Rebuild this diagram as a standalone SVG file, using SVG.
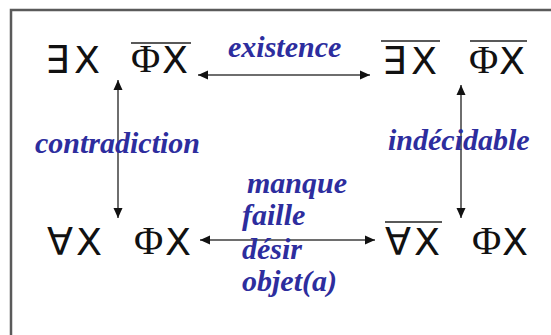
<svg xmlns="http://www.w3.org/2000/svg" width="551" height="335" viewBox="0 0 551 335">
  <defs>
    <marker id="ah" markerUnits="userSpaceOnUse" markerWidth="10" markerHeight="10" viewBox="0 0 10 10" refX="10" refY="5" orient="auto-start-reverse">
      <path d="M0,0.5 L10,5 L0,9.5 Z" fill="#111"/>
    </marker>
    <style>
      .sym { font-family: "DejaVu Sans", "Liberation Sans", sans-serif; font-size: 38px; fill: #111; }
      .phi { font-family: "Liberation Serif", "Times New Roman", serif; font-size: 40px; fill: #111; }
      .bar { stroke: #222; stroke-width: 1.6; fill: none; }
      .conn { stroke: #6e6e6e; stroke-width: 2; fill: none; marker-start: url(#ah); marker-end: url(#ah); }
      .lbl { font-family: "Liberation Serif", "Times New Roman", serif; font-size: 30px; font-weight: bold; font-style: italic; fill: #2d2d9e; }
    </style>
  </defs>
  <rect x="0" y="0" width="551" height="335" fill="#ffffff"/>
  <rect x="11" y="10" width="580" height="360" fill="#ffffff" stroke="#5a5a5a" stroke-width="2.5"/>

  <g id="node-top-left">
    <text class="sym" x="45" y="73">∃</text>
    <text class="sym" x="74" y="73">X</text>
    <line class="bar" x1="131" y1="43" x2="191" y2="43"/>
    <text class="phi" x="131" y="72">Φ</text>
    <text class="sym" x="162" y="73">X</text>
  </g>

  <g id="node-top-right">
    <line class="bar" x1="381" y1="41" x2="440" y2="41"/>
    <text class="sym" x="382" y="74">∃</text>
    <text class="sym" x="411" y="74">X</text>
    <line class="bar" x1="470" y1="41" x2="527" y2="41"/>
    <text class="phi" x="469" y="73">Φ</text>
    <text class="sym" x="499" y="74">X</text>
  </g>

  <g id="node-bottom-left">
    <text class="sym" x="47" y="255">∀</text>
    <text class="sym" x="76" y="255">X</text>
    <text class="phi" x="134" y="254">Φ</text>
    <text class="sym" x="165" y="255">X</text>
  </g>

  <g id="node-bottom-right">
    <line class="bar" x1="385" y1="222" x2="442" y2="222"/>
    <text class="sym" x="385" y="255">∀</text>
    <text class="sym" x="414" y="255">X</text>
    <text class="phi" x="472" y="254">Φ</text>
    <text class="sym" x="502" y="255">X</text>
  </g>

  <g id="connectors">
    <line class="conn" x1="198" y1="75" x2="370" y2="75"/>
    <line class="conn" x1="118" y1="80" x2="118" y2="218"/>
    <line class="conn" x1="461" y1="85" x2="461" y2="218"/>
    <line class="conn" x1="200" y1="240" x2="375" y2="240"/>
  </g>

  <g id="labels">
    <text class="lbl" x="228" y="57">existence</text>
    <text class="lbl" x="35" y="153">contradiction</text>
    <text class="lbl" x="388" y="150">indécidable</text>
    <text class="lbl" x="247" y="193">manque</text>
    <text class="lbl" x="242" y="225">faille</text>
    <text class="lbl" x="242" y="259">désir</text>
    <text class="lbl" x="242" y="291">objet(a)</text>
  </g>
</svg>
